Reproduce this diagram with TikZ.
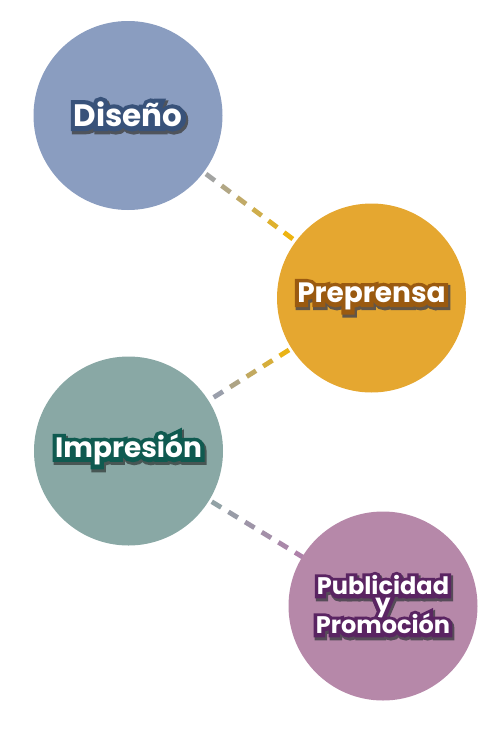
\documentclass[tikz,border=0pt]{standalone}
\usepackage{fontspec}
\setmainfont{Poppins}
\newfontfamily\popb{Poppins Bold}
\newfontfamily\popo{Poppins Bold}[FakeBold=30]
\newfontfamily\pops{Poppins Bold}[FakeBold=34]
\usetikzlibrary{calc,backgrounds}
\definecolor{cdis}{HTML}{8A9DC0}
\definecolor{cpre}{HTML}{E5A730}
\definecolor{cimp}{HTML}{89A8A5}
\definecolor{cpub}{HTML}{B688A9}
\definecolor{odis}{HTML}{38527A}
\definecolor{opre}{HTML}{9A5A10}
\definecolor{oimp}{HTML}{0F5A50}
\definecolor{opub}{HTML}{5A2462}
\definecolor{lga}{HTML}{9AA2B4}
\definecolor{lgb}{HTML}{F6B600}
\definecolor{lgc}{HTML}{8C9CC4}
\definecolor{lgd}{HTML}{8FA6A6}
\definecolor{lge}{HTML}{B080AA}
\definecolor{shad}{HTML}{555555}
\newcommand\outtext[2]{\leavevmode\rlap{\hspace{1.5pt}\raisebox{-2.5pt}{\pops\textcolor{shad!80!#1}{#2}}}\rlap{\popo\textcolor{#1}{#2}}{\popb #2}}
\newcommand\dashconn[6]{% from, to, length, count, colour a, colour b
  \foreach \k in {0,...,#4}{
    \pgfmathsetmacro\dpos{\k*19.5}
    \pgfmathsetmacro\dend{\dpos+11}
    \pgfmathtruncatemacro\mixpc{max(0,min(100,100-(\dpos+5.5-92)/(#3-184)*100))}
    \draw[dashseg,draw=#5!\mixpc!#6] ($(#1.center)!\dpos pt!(#2.center)$) -- ($(#1.center)!\dend pt!(#2.center)$);
  }}
\tikzset{
  disc/.style={circle,minimum size=189pt,inner sep=0pt,draw=none,text=white,align=center},
  dashseg/.style={line width=4.8pt},
  label32/.style={font=\fontsize{31}{32}\selectfont},
  label29/.style={font=\fontsize{28}{29}\selectfont},
  label24/.style={font=\fontsize{24}{18}\selectfont}
}
\begin{document}
\begin{tikzpicture}[x=1pt,y=-1pt]
\useasboundingbox (0,0) rectangle (500,744);
\node[disc,fill=cdis,label32] (dis) at (128,115.5) {\outtext{odis}{Diseño}};
\node[disc,fill=cpre,label29] (pre) at (371.5,298) {\outtext{opre}{Preprensa}};
\node[disc,fill=cimp,label29] (imp) at (128.5,451) {\outtext{oimp}{Impresión}};
\node[disc,fill=cpub,label24] (pub) at (383,606) {\outtext{opub}{Publicidad}\\[-1pt]\outtext{opub}{y}\\[-8pt]\outtext{opub}{Promoción}};
\begin{pgfonlayer}{background}
\dashconn{dis}{pre}{304}{15}{lga}{lgb}
\dashconn{pre}{imp}{287}{14}{lgb}{lgc}
\dashconn{imp}{pub}{298}{15}{lgd}{lge}
\end{pgfonlayer}
\end{tikzpicture}
\end{document}
